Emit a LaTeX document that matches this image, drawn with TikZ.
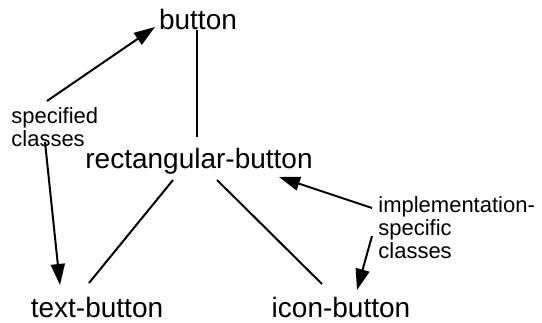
\documentclass[tikz,border=0pt]{standalone}
\usepackage{fontspec}
\setmainfont{Liberation Sans}
\usetikzlibrary{arrows.meta,calc}
\begin{document}
\begin{tikzpicture}[x=0.5pt,y=-0.5pt,
  cls/.style={inner sep=0pt,anchor=base,font=\fontsize{14}{17}\selectfont},
  note/.style={inner sep=0pt,anchor=north west,align=left,font=\fontsize{11}{11.5}\selectfont},
  link/.style={line width=1pt},
  ptr/.style={line width=1pt,-{Triangle[length=10.5pt,width=7pt]}}]
\useasboundingbox (0,0) rectangle (542,322);
% class names
\node[cls] (button) at (198,29) {button};
\node[cls] (rect) at (199,168) {rectangular-button};
\node[cls] (tb) at (97,317) {text-button};
\node[cls] (ib) at (341,317) {icon-button};
% annotations
\node[note] (spec) at (11,107) {specified\\classes};
\node[note] (impl) at (378,196) {implementation-\\specific\\classes};
% inheritance lines
\draw[link] ($(button.base)+(-1,1)$) -- ($(rect.base)+(-2,-31)$);
\draw[link] ($(rect.base)+(-26,12)$) -- ($(tb.base)+(-8,-34)$);
\draw[link] ($(rect.base)+(18,12)$) -- ($(ib.base)+(-19,-33)$);
% annotation pointers
\draw[ptr] ($(spec.north west)+(36,-6)$) -- ($(button.base)+(-43,-2)$);
\draw[ptr] ($(spec.north west)+(34,35)$) -- ($(tb.base)+(-37,-32)$);
\draw[ptr] ($(impl.north west)+(-6,12)$) -- ($(rect.base)+(80,9)$);
\draw[ptr] ($(impl.north west)+(-6,40)$) -- ($(ib.base)+(16,-27)$);
\end{tikzpicture}
\end{document}
